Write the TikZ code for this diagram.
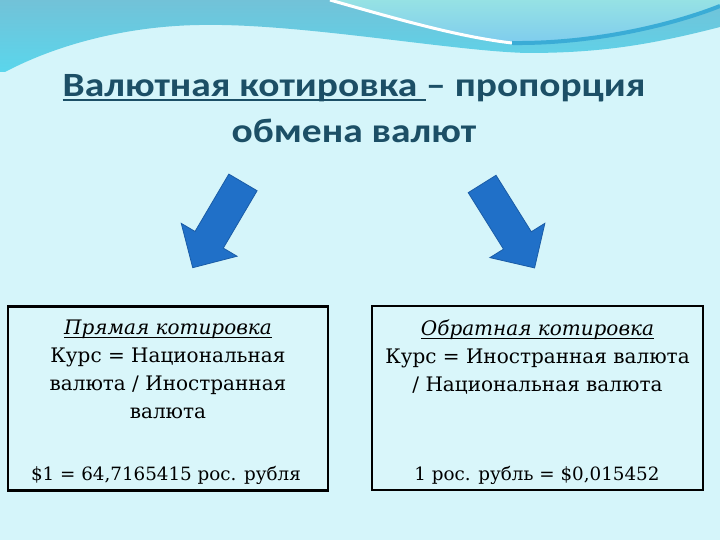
\documentclass[tikz,border=0pt]{standalone}
\usepackage{fontspec}
\setmainfont{DejaVu Serif}
\newfontfamily\titlefont[FakeStretch=1.16]{Carlito}
\usetikzlibrary{positioning,shapes.arrows}

\definecolor{slidebg}{HTML}{D5F5FA}
\definecolor{waveTop}{HTML}{72C2D8}
\definecolor{waveLow}{HTML}{5AD6EC}
\definecolor{capTop}{HTML}{96E2E4}
\definecolor{capLow}{HTML}{7ECCEE}
\definecolor{waveLine}{HTML}{3AACD6}
\definecolor{titleInk}{HTML}{1C4F66}
\definecolor{arrowFill}{HTML}{2070C8}
\definecolor{arrowLine}{HTML}{1A5CA6}
\newcommand{\uline}[3]{\setbox0\hbox{#1}\rlap{\rule[-#2]{\wd0}{#3}}\box0}

\begin{document}
\begin{tikzpicture}[x=1pt, y=1pt,
    quotebox/.style={draw=black, line width=2.4pt, fill=slidebg!90!white,
        minimum width=#1, minimum height=184pt, inner sep=0pt},
    boxtext/.style={align=center, inner sep=0pt,
        font=\fontsize{20}{28}\selectfont},
    ratetext/.style={inner sep=0pt, font=\fontsize{18.3}{28}\selectfont},
    downarrow/.style={single arrow, draw=arrowLine, fill=arrowFill, line width=0.8pt,
        minimum height=99pt, minimum width=64pt, inner sep=16pt,
        single arrow head extend=16pt}
    ]
        %Background and wave
        \fill[slidebg] (0,0) rectangle (720,540);
        \useasboundingbox (0,0) rectangle (720,540);
        \shade[top color=waveTop, bottom color=waveLow]
            (0,540) -- (720,540) -- (720,513)
            .. controls (650,495) and (600,487) .. (527,487)
            .. controls (450,489) and (300,517) .. (200,515)
            .. controls (130,514) and (60,497) .. (5,468) -- (0,468) -- cycle;
        \shade[top color=capTop, bottom color=capLow]
            (330,540) .. controls (400,520) and (460,503) .. (512,497)
            .. controls (600,496) and (680,518) .. (720,534) -- (720,540) -- cycle;
        \draw[white, line width=3pt]
            (330,540) .. controls (400,520) and (460,503) .. (512,497);
        \draw[waveLine, line width=4pt]
            (512,497) .. controls (600,496) and (680,518) .. (720,534);

        %Title
        \node[anchor=north, align=center, inner sep=0pt, text=titleInk,
              font=\titlefont\bfseries\fontsize{34}{46}\selectfont]
            (title) at (354,466)
            {\uline{Валютная котировка\ }{4.5pt}{1.8pt}– пропорция\\ обмена валют};

        %Arrows
        \node[downarrow, rotate=239.5] (arrL) at (222,322) {};
        \node[downarrow, rotate=-58]   (arrR) at (504,321) {};

        %Boxes
        \node[quotebox=320pt] (direct)  at (168,141.5) {};
        \node[quotebox=331pt] (inverse) at (537.5,142) {};

        \node[boxtext, anchor=north] (directHead) at (168,220.5)
            {\uline{\textit{Прямая котировка}}{3.5pt}{1.1pt}\\
             Курс = Национальная\\ валюта / Иностранная\\ валюта};
        \node[ratetext, anchor=base] (directRate) at (166,59)
            {\$1 = 64,7165415 рос. рубля};

        \node[boxtext, anchor=north] (inverseHead) at (537.5,220.5)
            {\uline{\textit{Обратная котировка}}{3.5pt}{1.1pt}\\
             Курс = Иностранная валюта\\ / Национальная валюта};
        \node[ratetext, anchor=base] (inverseRate) at (537,59)
            {1 рос. рубль = \$0,015452};
    \end{tikzpicture}
\end{document}
